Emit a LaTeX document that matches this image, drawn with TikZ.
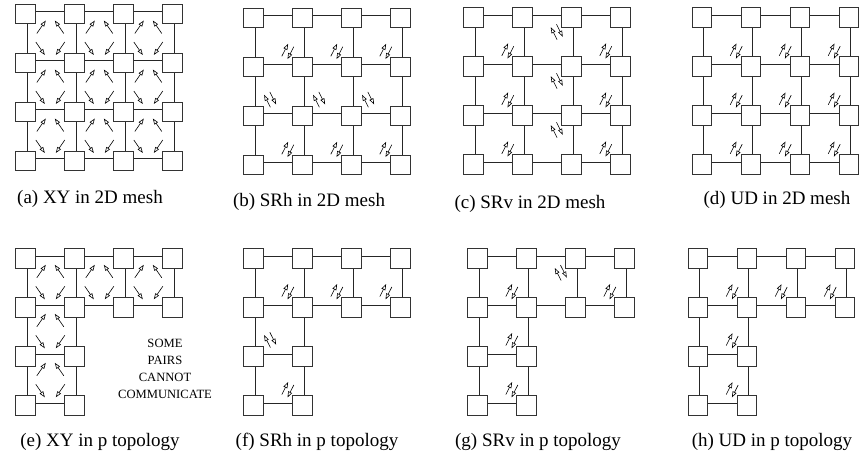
\documentclass[tikz,border=0pt]{standalone}
\usepackage{fontspec}
\setmainfont{Liberation Serif}
\usetikzlibrary{arrows.meta,calc}
\pgfdeclarelayer{bg}
\pgfsetlayers{bg,main}

\tikzset{
  router/.style={draw=black!80, line width=0.9pt, fill=white, minimum size=19.5pt,
                 inner sep=0pt, outer sep=0pt},
  link/.style={line width=0.8pt, black!85},
  turn/.style={line width=0.6pt, -{Triangle[open,length=6pt,width=4.2pt]}},
  caption/.style={font=\fontsize{19}{22}\selectfont, inner sep=0pt},
  note/.style={font=\fontsize{12.6}{17}\selectfont, align=center, inner sep=0pt},
  % four permitted turns inside one mesh cell (XY routing)
  xyturns/.pic={
    \draw[turn] (-13,-5) -- (-4,-18);
    \draw[turn] (14,-5) -- (5,-18);
    \draw[turn] (-14,3.5) -- (-5,16.5);
    \draw[turn] (15,3.5) -- (6,16.5);
  },
  % forbidden turn pair, slanted like "/"
  pairfwd/.pic={
    \draw[turn] (-6.0,4.79) -- (0.3,-7.67);
    \draw[turn] (6.0,-4.79) -- (-0.3,7.67);
  },
  % forbidden turn pair, slanted like "\"
  pairback/.pic={
    \draw[turn] (0.3,7.67) -- (-6.0,-4.79);
    \draw[turn] (-0.3,-7.67) -- (6.0,4.79);
  },
}

% link between two routers, slightly off the box centres
\newcommand\lk[2]{\draw[link] ([shift={(1.8,-2.2)}]#1.center) -- ([shift={(1.8,-2.2)}]#2.center);}

% full 4x4 mesh: name, x of first column, y of first row
\newcommand\meshpanel[3]{%
  \foreach \c in {1,...,4}{\foreach \r in {1,...,4}{%
    \node[router] (#1\c\r) at ({#2+49*(\c-1)},{#3+49*(\r-1)}) {};}}%
  \begin{pgfonlayer}{bg}
  \foreach \r in {1,...,4}{\foreach \c/\n in {1/2,2/3,3/4}{%
    \lk{#1\c\r}{#1\n\r}\lk{#1\r\c}{#1\r\n}}}%
  \end{pgfonlayer}}

% p-shaped topology
\newcommand\ppanel[3]{%
  \foreach \c/\r in {1/1,2/1,3/1,4/1,1/2,2/2,3/2,4/2,1/3,2/3,1/4,2/4}{%
    \node[router] (#1\c\r) at ({#2+49*(\c-1)},{#3+49*(\r-1)}) {};}%
  \begin{pgfonlayer}{bg}
  \foreach \a/\b in {11/21,21/31,31/41,12/22,22/32,32/42,13/23,14/24,
                     11/12,12/13,13/14,21/22,22/23,23/24,31/32,41/42}{\lk{#1\a}{#1\b}}%
  \end{pgfonlayer}}

% pair glyph positions relative to a router
\newcommand\fwdtl[1]{\pic at ([shift={(-14.5,-15.5)}]#1.center) {pairfwd};}
\newcommand\backtr[1]{\pic at ([shift={(16.8,-16.4)}]#1.center) {pairback};}
\newcommand\backbl[1]{\pic at ([shift={(-14.5,14.5)}]#1.center) {pairback};}

\begin{document}
\begin{tikzpicture}[x=1pt,y=-1pt]
\useasboundingbox (0,0) rectangle (863,465);

% ---------- top row: 2D mesh ----------
\meshpanel{a}{25.3}{14}
\foreach \c/\n in {1/2,2/3,3/4}{\foreach \r/\s in {1/2,2/3,3/4}{%
  \pic at ($(a\c\r)!.5!(a\n\s)$) {xyturns};}}
\node[caption] (capa) at (90,199) {(a) XY in 2D mesh};

\meshpanel{b}{253.3}{18}
\foreach \n in {b22,b32,b42,b24,b34,b44}{\fwdtl{\n}}
\foreach \n in {b13,b23,b33}{\backtr{\n}}
\node[caption] (capb) at (309,202) {(b) SRh in 2D mesh};

\meshpanel{c}{473.3}{17.5}
\foreach \n in {c22,c42,c23,c43,c24,c44}{\fwdtl{\n}}
\foreach \n in {c31,c32,c33}{\backbl{\n}}
\node[caption] (capc) at (530,204) {(c) SRv in 2D mesh};

\meshpanel{d}{701.7}{17.5}
\foreach \c in {2,3,4}{\foreach \r in {2,3,4}{\fwdtl{d\c\r}}}
\node[caption] (capd) at (777,200) {(d) UD in 2D mesh};

% ---------- bottom row: p topology ----------
\ppanel{e}{25.3}{258.3}
\foreach \a/\b in {11/22,21/32,31/42,12/23,13/24}{%
  \pic at ($(e\a)!.5!(e\b)$) {xyturns};}
\node[note] (warn) at (165,369) {SOME\\PAIRS\\CANNOT\\COMMUNICATE};
\node[caption] (cape) at (100,442) {(e) XY in p topology};

\ppanel{f}{253.3}{258.3}
\foreach \n in {f22,f32,f42,f24}{\fwdtl{\n}}
\backtr{f13}
\node[caption] (capf) at (317,442) {(f) SRh in p topology};

\ppanel{g}{477.3}{258.3}
\foreach \n in {g22,g42,g23,g24}{\fwdtl{\n}}
\backbl{g31}
\node[caption] (capg) at (538,442) {(g) SRv in p topology};

\ppanel{h}{697.7}{258.3}
\foreach \n in {h22,h32,h42,h23,h24}{\fwdtl{\n}}
\node[caption] (caph) at (772,442) {(h) UD in p topology};
\end{tikzpicture}
\end{document}
